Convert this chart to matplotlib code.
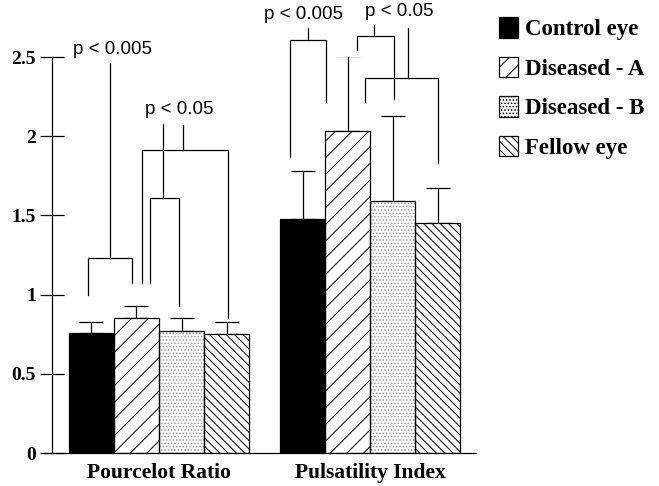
import numpy as np
import matplotlib
matplotlib.use("Agg")
import matplotlib.pyplot as plt
from matplotlib.patches import Patch

# === data ===
groups = ['Pourcelot Ratio', 'Pulsatility Index']
series = ['Control eye', 'Diseased - A', 'Diseased - B', 'Fellow eye']

control_mean = [0.76, 1.475]
control_sd = [0.07, 0.305]
disA_mean = [0.85, 2.03]
disA_sd = [0.075, 0.476]
disB_mean = [0.77, 1.59]
disB_sd = [0.08, 0.54]
fellow_mean = [0.75, 1.45]
fellow_sd = [0.08, 0.22]

means = [control_mean, disA_mean, disB_mean, fellow_mean]
sds = [control_sd, disA_sd, disB_sd, fellow_sd]

# significance brackets:
# (group, left bar, right bar, bracket height, left leg end, right leg end, stem top)
brackets = [
    (0, 0, 1, 1.23, 1.00, 1.075, 2.46),
    (0, 1, 2, 1.61, 1.075, 0.925, 2.08),
    (0, 1, 3, 1.91, 1.075, 0.855, 2.07),
    (1, 0, 1, 2.61, 1.87, 2.215, 2.68),
    (1, 1, 2, 2.63, 2.545, 2.235, 2.70),
    (1, 1, 3, 2.37, 2.215, 1.83, 2.68),
]
# p-value labels and the brackets they belong to
p_labels = ['p < 0.005', 'p < 0.05', 'p < 0.005', 'p < 0.05']
p_label_brackets = [[0], [1, 2], [3], [4, 5]]

# === style ===
width = 0.2133
fills = ['black', 'white', 'white', 'white']
hatches = [None, '//', '.....', '\\\\\\\\']
hatch_cols = ['black', 'black', '#9a9a9a', 'black']
# leg offsets (bar widths) and stem position along bracket, tuned to the figure
leg_dx = [(-0.07, -0.09), (0.31, -0.06), (0.13, 0.03),
          (-0.28, -0.48), (0.21, 0.03), (0.39, 0.01)]
stem_pos = [0.5, 0.43, 0.47, 0.5, 0.46, 0.59]
label_dx = [0.01, 0.03, -0.02, 0.04]

serif = 'Liberation Serif'
sans = 'Liberation Sans'
plt.rcParams['hatch.linewidth'] = 0.7
lw = 0.9

fig = plt.figure(figsize=(6.59, 4.86), dpi=100)
ax = fig.add_axes([52 / 659, 33 / 486, 424 / 659, 396 / 486])

x = np.arange(len(groups))


def bar_x(g, i):
    return g + (i - 1.5) * width


for i, name in enumerate(series):
    xs = x + (i - 1.5) * width
    # hatch layer
    ax.bar(xs, means[i], width, color=fills[i], edgecolor=hatch_cols[i],
           hatch=hatches[i], linewidth=0, zorder=2)
    # outline
    ax.bar(xs, means[i], width, fill=False, edgecolor='black',
           linewidth=lw, zorder=3)
    ax.errorbar(xs, means[i], yerr=[np.zeros(len(groups)), sds[i]],
                fmt='none', ecolor='black', elinewidth=lw, capsize=8.6,
                capthick=lw, zorder=1)

stems = []
for k, (g, a, b, h, ya, yb, top) in enumerate(brackets):
    xa = bar_x(g, a) + leg_dx[k][0] * width
    xb = bar_x(g, b) + leg_dx[k][1] * width
    ax.plot([xa, xa, xb, xb], [ya, h, h, yb], color='black', lw=lw,
            clip_on=False, solid_joinstyle='miter')
    xs_ = xa + stem_pos[k] * (xb - xa)
    ax.plot([xs_, xs_], [h, top], color='black', lw=lw, clip_on=False)
    stems.append((xs_, top))

for j, lab in enumerate(p_labels):
    sx = np.mean([stems[k][0] for k in p_label_brackets[j]]) + label_dx[j]
    sy = max(stems[k][1] for k in p_label_brackets[j]) + 0.06
    ax.text(sx, sy, lab, ha='center', va='baseline', fontsize=13.5,
            family=sans, clip_on=False)

ax.set_xlim(-0.507, 1.502)
ax.set_ylim(0, 2.5)
ax.set_yticks([0, 0.5, 1, 1.5, 2, 2.5])
ax.set_yticklabels(['0', '0.5', '1', '1.5', '2', '2.5'])
ax.set_xticks(x)
ax.set_xticklabels(groups)
for t in ax.get_yticklabels():
    t.set_family(serif)
    t.set_fontweight('bold')
    t.set_fontsize(14)
for t in ax.get_xticklabels():
    t.set_family(serif)
    t.set_fontweight('bold')
    t.set_fontsize(15.5)
ax.tick_params(axis='y', direction='inout', length=17, width=lw, pad=3)
ax.tick_params(axis='x', length=0, pad=7)
for s in ['top', 'right']:
    ax.spines[s].set_visible(False)
for s in ['left', 'bottom']:
    ax.spines[s].set_linewidth(lw)
ax.spines['bottom'].set_bounds(-0.54, 1.502)

handles = [Patch(facecolor=fills[i], edgecolor='black', hatch=hatches[i],
                 linewidth=lw) for i in range(len(series))]
leg = fig.legend(handles, series, loc='upper left',
                 bbox_to_anchor=(499 / 659, 1 - 17 / 486), frameon=False,
                 borderpad=0, borderaxespad=0, handlelength=0.85,
                 handleheight=1.0, handletextpad=0.3, labelspacing=0.72,
                 prop={'family': serif, 'weight': 'bold', 'size': 16.5})

fig.savefig('out.png', dpi=100)
